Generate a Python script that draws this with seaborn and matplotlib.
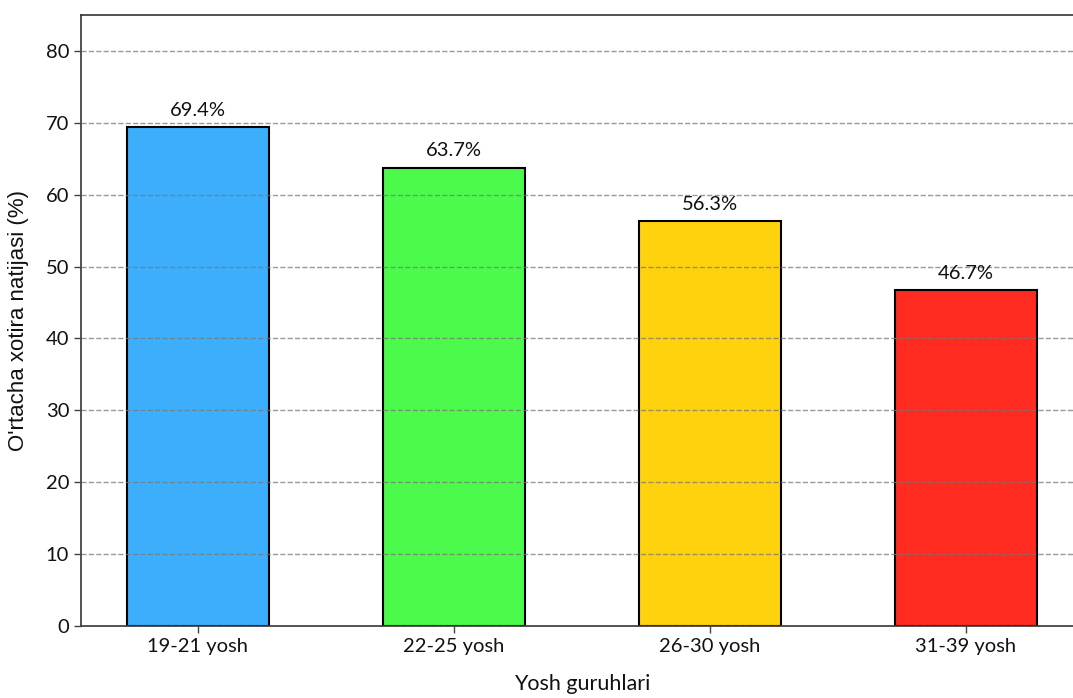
import matplotlib
matplotlib.use("Agg")
import matplotlib.pyplot as plt
import seaborn as sns
import pandas as pd

# Average memory score by age group
groups = ["19-21 yosh", "22-25 yosh", "26-30 yosh", "31-39 yosh"]
scores = [69.4, 63.7, 56.3, 46.7]
colors = ["#3daefc", "#4cfa4c", "#ffd20e", "#ff2a20"]
y_ticks = [0, 10, 20, 30, 40, 50, 60, 70, 80]

df = pd.DataFrame({"group": groups, "score": scores})

sns.set_theme(style="white")
plt.rcParams["font.family"] = ["Lato", "DejaVu Sans"]

fig = plt.figure(figsize=(10.73, 6.98), dpi=100)
ax = fig.add_axes([81 / 1073, 72 / 698, 1002 / 1073, 611 / 698])

sns.barplot(data=df, x="group", y="score", hue="group", palette=colors,
            legend=False, width=0.555, edgecolor="black", linewidth=1.5,
            saturation=1, ax=ax, zorder=2)

for patch, val in zip(ax.patches, scores):
    ax.text(patch.get_x() + patch.get_width() / 2, val + 1.2, f"{val}%",
            ha="center", va="bottom", fontsize=14.5, color="#111111")

ax.set_ylim(0, 85)
ax.set_xlim(-0.457, 3.457)
ax.set_yticks(y_ticks)
ax.yaxis.grid(True, linestyle="--", color="#777777", linewidth=1, alpha=0.75, zorder=3)
ax.set_axisbelow(False)

ax.tick_params(axis="both", labelsize=14.5, length=5, color="#444444", width=1,
               left=True, bottom=True, labelcolor="#111111")
for side in ["left", "bottom", "top", "right"]:
    ax.spines[side].set_color("#333333")
    ax.spines[side].set_linewidth(1.2)

ax.set_xlabel("Yosh guruhlari", fontsize=15.5, labelpad=14, color="#111111")
ax.set_ylabel("O'rtacha xotira natijasi (%)", fontsize=16, labelpad=12,
              color="#111111", family=["Liberation Sans", "DejaVu Sans"])

fig.savefig("out.png", dpi=100)
